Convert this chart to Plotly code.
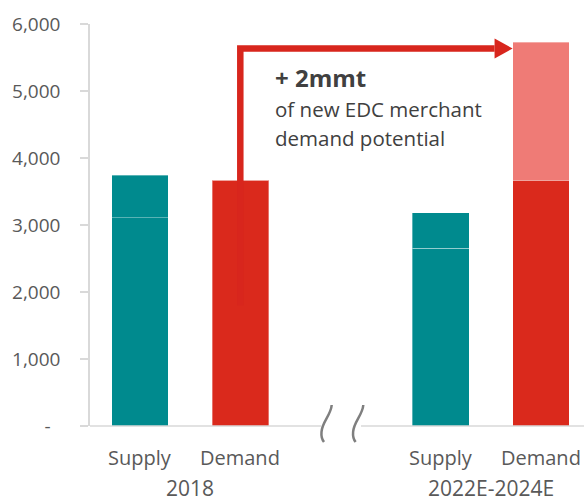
import plotly.graph_objects as go

# ---- data ----
groups = ["2018", "2022E-2024E"]
items = ["Supply", "Demand"]
supply_base = [3110, 2650]
supply_top = [630, 530]
demand_base = [3670, 3670]
demand_new = [0, 2060]
y_ticks = [0, 1000, 2000, 3000, 4000, 5000, 6000]
y_tick_text = ["-\u00a0\u00a0", "1,000", "2,000", "3,000", "4,000", "5,000", "6,000"]
callout_title = "+ 2mmt"
callout_lines = ["of new EDC merchant", "demand potential"]

# ---- styles ----
TEAL = "#008A8E"
RED = "#DA291C"
LIGHT_RED = "#EF7B76"
AXIS = "#D9D9D9"
TXT = "#595959"
FONT = "Open Sans"
W, H = 584, 502
ML, MR, MT, MB = 90, 0, 24, 76
BAR_W = 0.565

def pos(g, i):
    return g * 3 + i

sup_x = [pos(g, 0) for g in range(len(groups))]
dem_x = [pos(g, 1) for g in range(len(groups))]

def px_x(px):
    return (px - ML) / (W - ML - MR)

def px_y(py):
    return (H - MB - py) / (H - MB - MT)

edge = dict(color="rgba(255,255,255,0.35)", width=1)

fig = go.Figure()
fig.add_bar(x=sup_x, y=supply_base, marker=dict(color=TEAL, line=edge), width=BAR_W)
fig.add_bar(x=sup_x, y=supply_top, marker=dict(color=TEAL, line=edge), width=BAR_W)
fig.add_bar(x=dem_x, y=demand_base, marker=dict(color=RED, line=edge), width=BAR_W)
fig.add_bar(x=dem_x, y=demand_new, marker=dict(color=LIGHT_RED, line=edge), width=BAR_W)

shapes = []
# x-axis line with break
shapes.append(dict(type="line", xref="paper", yref="paper", x0=0, x1=px_x(321), y0=0, y1=0,
                   line=dict(color=AXIS, width=1.5), layer="above"))
shapes.append(dict(type="line", xref="paper", yref="paper", x0=px_x(361), x1=1, y0=0, y1=0,
                   line=dict(color=AXIS, width=1.5), layer="above"))
for dx in (0, 31.6):
    pts = [(331.7 + dx, 405), (331 + dx, 415), (322 + dx, 422), (321.5 + dx, 432),
           (321 + dx, 437), (322.5 + dx, 440), (324 + dx, 442)]
    P = [(px_x(a), px_y(b)) for a, b in pts]
    path = "M {:.5f},{:.5f} C {:.5f},{:.5f} {:.5f},{:.5f} {:.5f},{:.5f} C {:.5f},{:.5f} {:.5f},{:.5f} {:.5f},{:.5f}".format(
        *P[0], *P[1], *P[2], *P[3], *P[4], *P[5], *P[6])
    shapes.append(dict(type="path", xref="paper", yref="paper", path=path,
                       line=dict(color="#7F7F7F", width=2.5), layer="above"))

# arrow from 2018 demand to 2022E demand
x_start = dem_x[0]
tip = dem_x[1] - BAR_W / 2
base = tip - 0.18
y_lo, y_hi = 1800, 5635
shapes.append(dict(type="path", xref="x", yref="y",
                   path=f"M {x_start},{y_lo} L {x_start},{y_hi} L {base},{y_hi}",
                   line=dict(color="#D8261D", width=6.5), layer="above"))
shapes.append(dict(type="path", xref="x", yref="y",
                   path=f"M {base},{y_hi + 150} L {tip},{y_hi} L {base},{y_hi - 150} Z",
                   fillcolor="#D8261D", line=dict(width=0), layer="above"))

annotations = []
for g, grp in enumerate(groups):
    for i, it in enumerate(items):
        annotations.append(dict(x=pos(g, i), y=0, xref="x", yref="paper", text=it,
                                showarrow=False, yanchor="middle", yshift=-31,
                                font=dict(family=FONT, size=20, color=TXT)))
    annotations.append(dict(x=(pos(g, 0) + pos(g, 1)) / 2, y=0, xref="x", yref="paper", text=grp,
                            showarrow=False, yanchor="middle", yshift=-62,
                            font=dict(family=FONT, size=21, color=TXT)))

annotations.append(dict(x=px_x(273), y=px_y(77), xref="paper", yref="paper", text=f"<b>{callout_title}</b>",
                        showarrow=False, xanchor="left", yanchor="middle",
                        font=dict(family=FONT, size=24, color="#404040")))
for k, line in enumerate(callout_lines):
    annotations.append(dict(x=px_x(273), y=px_y(109 + 29 * k), xref="paper", yref="paper", text=line,
                            showarrow=False, xanchor="left", yanchor="middle",
                            font=dict(family=FONT, size=20.5, color="#404040")))

fig.update_layout(
    width=W, height=H, barmode="stack", showlegend=False,
    plot_bgcolor="white", paper_bgcolor="white",
    margin=dict(l=ML, r=MR, t=MT, b=MB, pad=0),
    xaxis=dict(range=[-0.5, 4.43], showticklabels=False, showgrid=False, zeroline=False,
               showline=False, ticks=""),
    yaxis=dict(range=[0, 6000], tickvals=y_ticks, ticktext=y_tick_text, showgrid=False,
               zeroline=False, showline=True, linecolor=AXIS, linewidth=1.5,
               ticks="outside", ticklen=8, tickcolor=AXIS, tickwidth=1.5,
               ticklabelstandoff=16, tickfont=dict(family=FONT, size=19, color=TXT)),
    shapes=shapes, annotations=annotations,
)

fig.write_html("out.html", config={"displayModeBar": False},
               post_script="document.body.style.margin='0';document.body.style.padding='0';"
                           "document.documentElement.style.overflow='hidden';")
